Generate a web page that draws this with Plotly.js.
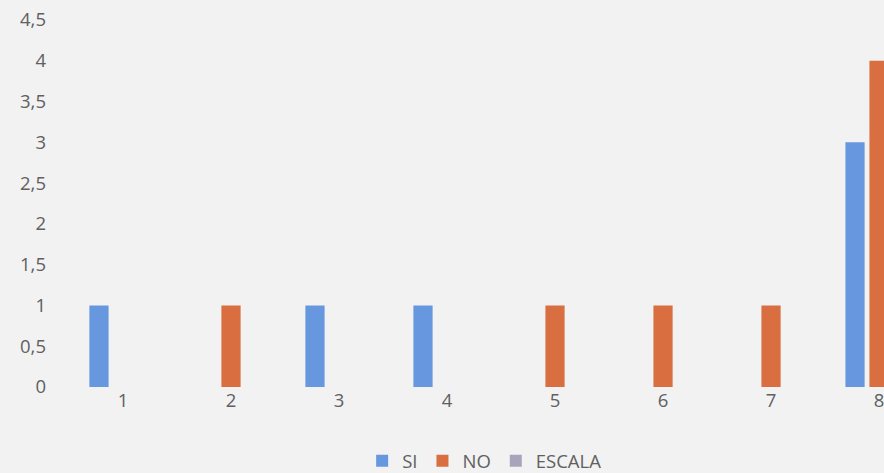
<!DOCTYPE html>
<html>
<head>
<meta charset="utf-8">
<script src="https://cdn.plot.ly/plotly-3.0.1.min.js"></script>
<style>html,body{margin:0;padding:0;background:#f2f2f2;}#chart{width:884px;height:473px;}</style>
</head>
<body>
<div id="chart"></div>
<script>
const categories = ['1','2','3','4','5','6','7','8'];
const siValues = [1,0,1,1,0,0,0,3];
const noValues = [0,1,0,0,1,1,1,4];
const escalaValues = [0,0,0,0,0,0,0,0];
const yTickVals = [0,0.5,1,1.5,2,2.5,3,3.5,4,4.5];

const traces = [
  {type:'bar', name:'SI', x:categories, y:siValues, marker:{color:'#6797DF'}},
  {type:'bar', name:'NO', x:categories, y:noValues, marker:{color:'#D96E40'}},
  {type:'bar', name:'ESCALA', x:categories, y:escalaValues, marker:{color:'#A9A4BC'}}
];

const layout = {
  width:884, height:473,
  paper_bgcolor:'#f2f2f2', plot_bgcolor:'#f2f2f2',
  margin:{l:69, r:0, t:20, b:86, pad:0},
  separators:',.',
  barmode:'group', bargap:0.333, bargroupgap:0.2,
  font:{family:'"Open Sans", Lato, sans-serif', color:'#606060', size:18.5},
  xaxis:{type:'category', range:[-0.5,7.046], showgrid:false, zeroline:false, showline:false, ticks:'', tickfont:{size:18.5, color:'#606060'}, ticklabelstandoff:0},
  yaxis:{range:[0,4.5], tickvals:yTickVals, showgrid:false, zeroline:false, showline:false, ticks:'', tickfont:{size:18.5, color:'#606060'}, ticklabelstandoff:22},
  showlegend:true,
  legend:{orientation:'h', xref:'paper', x:0.51, xanchor:'center', yref:'container', y:0.025, yanchor:'middle', font:{size:18.5, color:'#606060'}, bgcolor:'rgba(0,0,0,0)', itemwidth:30, traceorder:'normal'}
};

Plotly.newPlot('chart', traces, layout, {displayModeBar:false, staticPlot:true});
</script>
</body>
</html>
